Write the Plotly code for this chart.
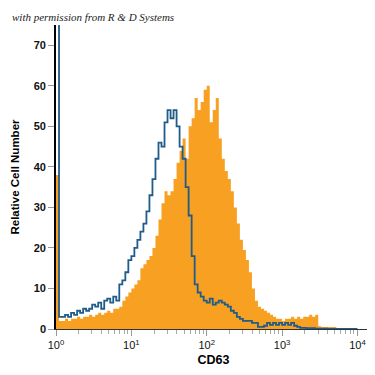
import numpy as np
import plotly.graph_objects as go

# histogram channel counts (bins of 0.04 decade from 10^0 to 10^4)
isotype_counts = [80, 3, 3, 3.5, 3, 4, 3.5, 4.5, 4, 5,
                  4.5, 5, 6, 5.5, 6.5, 5, 7, 7.5, 6.5, 8,
                  7, 11, 12, 14, 17, 18, 20, 22, 24, 26,
                  29, 33, 37, 42, 46, 45, 51, 54, 52, 54,
                  50, 45, 42, 35, 28, 18, 11, 9, 8, 7,
                  6.5, 7.5, 6, 6.5, 7, 6.5, 6, 5.5, 4.5, 4,
                  3, 2.5, 2, 2, 2, 1.5, 1.5, 0.5, 0.5, 0.8,
                  1.5, 1, 1.5, 1, 1.5, 1, 1.5, 1, 1.5, 0.8,
                  0.5, 0.3, 0.3, 0.2, 0.2, 0.2, 0.1, 0.1, 0.1, 0.1,
                  0, 0, 0, 0, 0, 0, 0, 0, 0, 0]

cd63_counts = [38, 2, 2, 2.5, 2, 2.5, 2.5, 3, 2.5, 3,
               3, 3.5, 3, 3.5, 4, 3.5, 4, 4.5, 4, 5,
               5, 5.5, 7, 8, 9, 10, 11, 12, 15, 16,
               17, 18, 20, 23, 27, 31, 34, 33, 34, 37,
               41, 44, 47, 42, 50, 52, 57, 54, 56, 59,
               60, 51, 54, 57, 47, 42, 39, 37, 34, 30,
               26, 22, 19.5, 17, 14, 10, 7, 5.5, 5, 4.5,
               4, 3.5, 3, 2.5, 2.5, 2, 2.5, 2.5, 3, 2.5,
               3, 2.5, 3, 3, 3.5, 3, 3.5, 0.7, 0.5, 0.5,
               0.5, 0.5, 0.5, 0, 0, 0, 0, 0, 0, 0]

x_tick_vals = [1, 10, 100, 1000, 10000]
x_tick_text = ["10<sup>0</sup>", "10<sup>1</sup>", "10<sup>2</sup>", "10<sup>3</sup>", "10<sup>4</sup>"]
y_tick_vals = [0, 10, 20, 30, 40, 50, 60, 70]

n = len(isotype_counts)
edges = 10 ** (0.04 * np.arange(n + 1))
minor_vals = [m * 10 ** d for d in range(4) for m in range(2, 10)]

fig = go.Figure()
fig.add_trace(go.Scatter(
    x=edges, y=list(cd63_counts) + [cd63_counts[-1]],
    mode="lines", line=dict(shape="hv", width=0, color="#F7A021"),
    fill="tozeroy", fillcolor="#F7A021", showlegend=False, hoverinfo="skip"))
fig.add_trace(go.Scatter(
    x=edges, y=list(isotype_counts) + [isotype_counts[-1]],
    mode="lines", line=dict(shape="hv", width=1.8, color="#1F5C8A"),
    showlegend=False, hoverinfo="skip"))

# page body adds an 8px margin, so the figure is 367px and shifted
fig.update_layout(
    width=367, height=367,
    margin=dict(l=48, r=4, t=17, b=46),
    paper_bgcolor="white", plot_bgcolor="white",
    font=dict(family="Liberation Sans, Arial, sans-serif", color="black"),
    xaxis=dict(
        type="log", range=[0, 4.18], automargin=False,
        tickvals=x_tick_vals, ticktext=x_tick_text,
        ticks="outside", ticklen=6, tickcolor="#999", tickwidth=1,
        tickfont=dict(size=11, color="#111"),
        showline=True, linecolor="#333", linewidth=1.3,
        showgrid=False, zeroline=False,
        minor=dict(tickvals=minor_vals, ticks="outside", ticklen=4,
                   tickcolor="#aaa", tickwidth=1, showgrid=False),
        title=dict(text="<b>CD63</b>", font=dict(size=12.5), standoff=4),
    ),
    yaxis=dict(
        range=[0, 75], tickvals=y_tick_vals, automargin=False,
        ticktext=["<b>%d</b>" % v for v in y_tick_vals],
        ticks="outside", ticklen=6, tickcolor="#999", tickwidth=1,
        tickfont=dict(size=11, color="#111"),
        showline=True, linecolor="black", linewidth=1.6,
        showgrid=False, zeroline=False,
        title=dict(text="<b>Relative Cell Number</b>", font=dict(size=11.5), standoff=12),
    ),
    annotations=[dict(
        text="<i>with permission from R &amp; D Systems</i>",
        xref="paper", yref="paper", x=-0.145, y=1.0, xanchor="left", yanchor="bottom",
        yshift=0, showarrow=False,
        font=dict(family="Liberation Serif, serif", size=11, color="#222"))],
)

fig.write_html("out.html")
